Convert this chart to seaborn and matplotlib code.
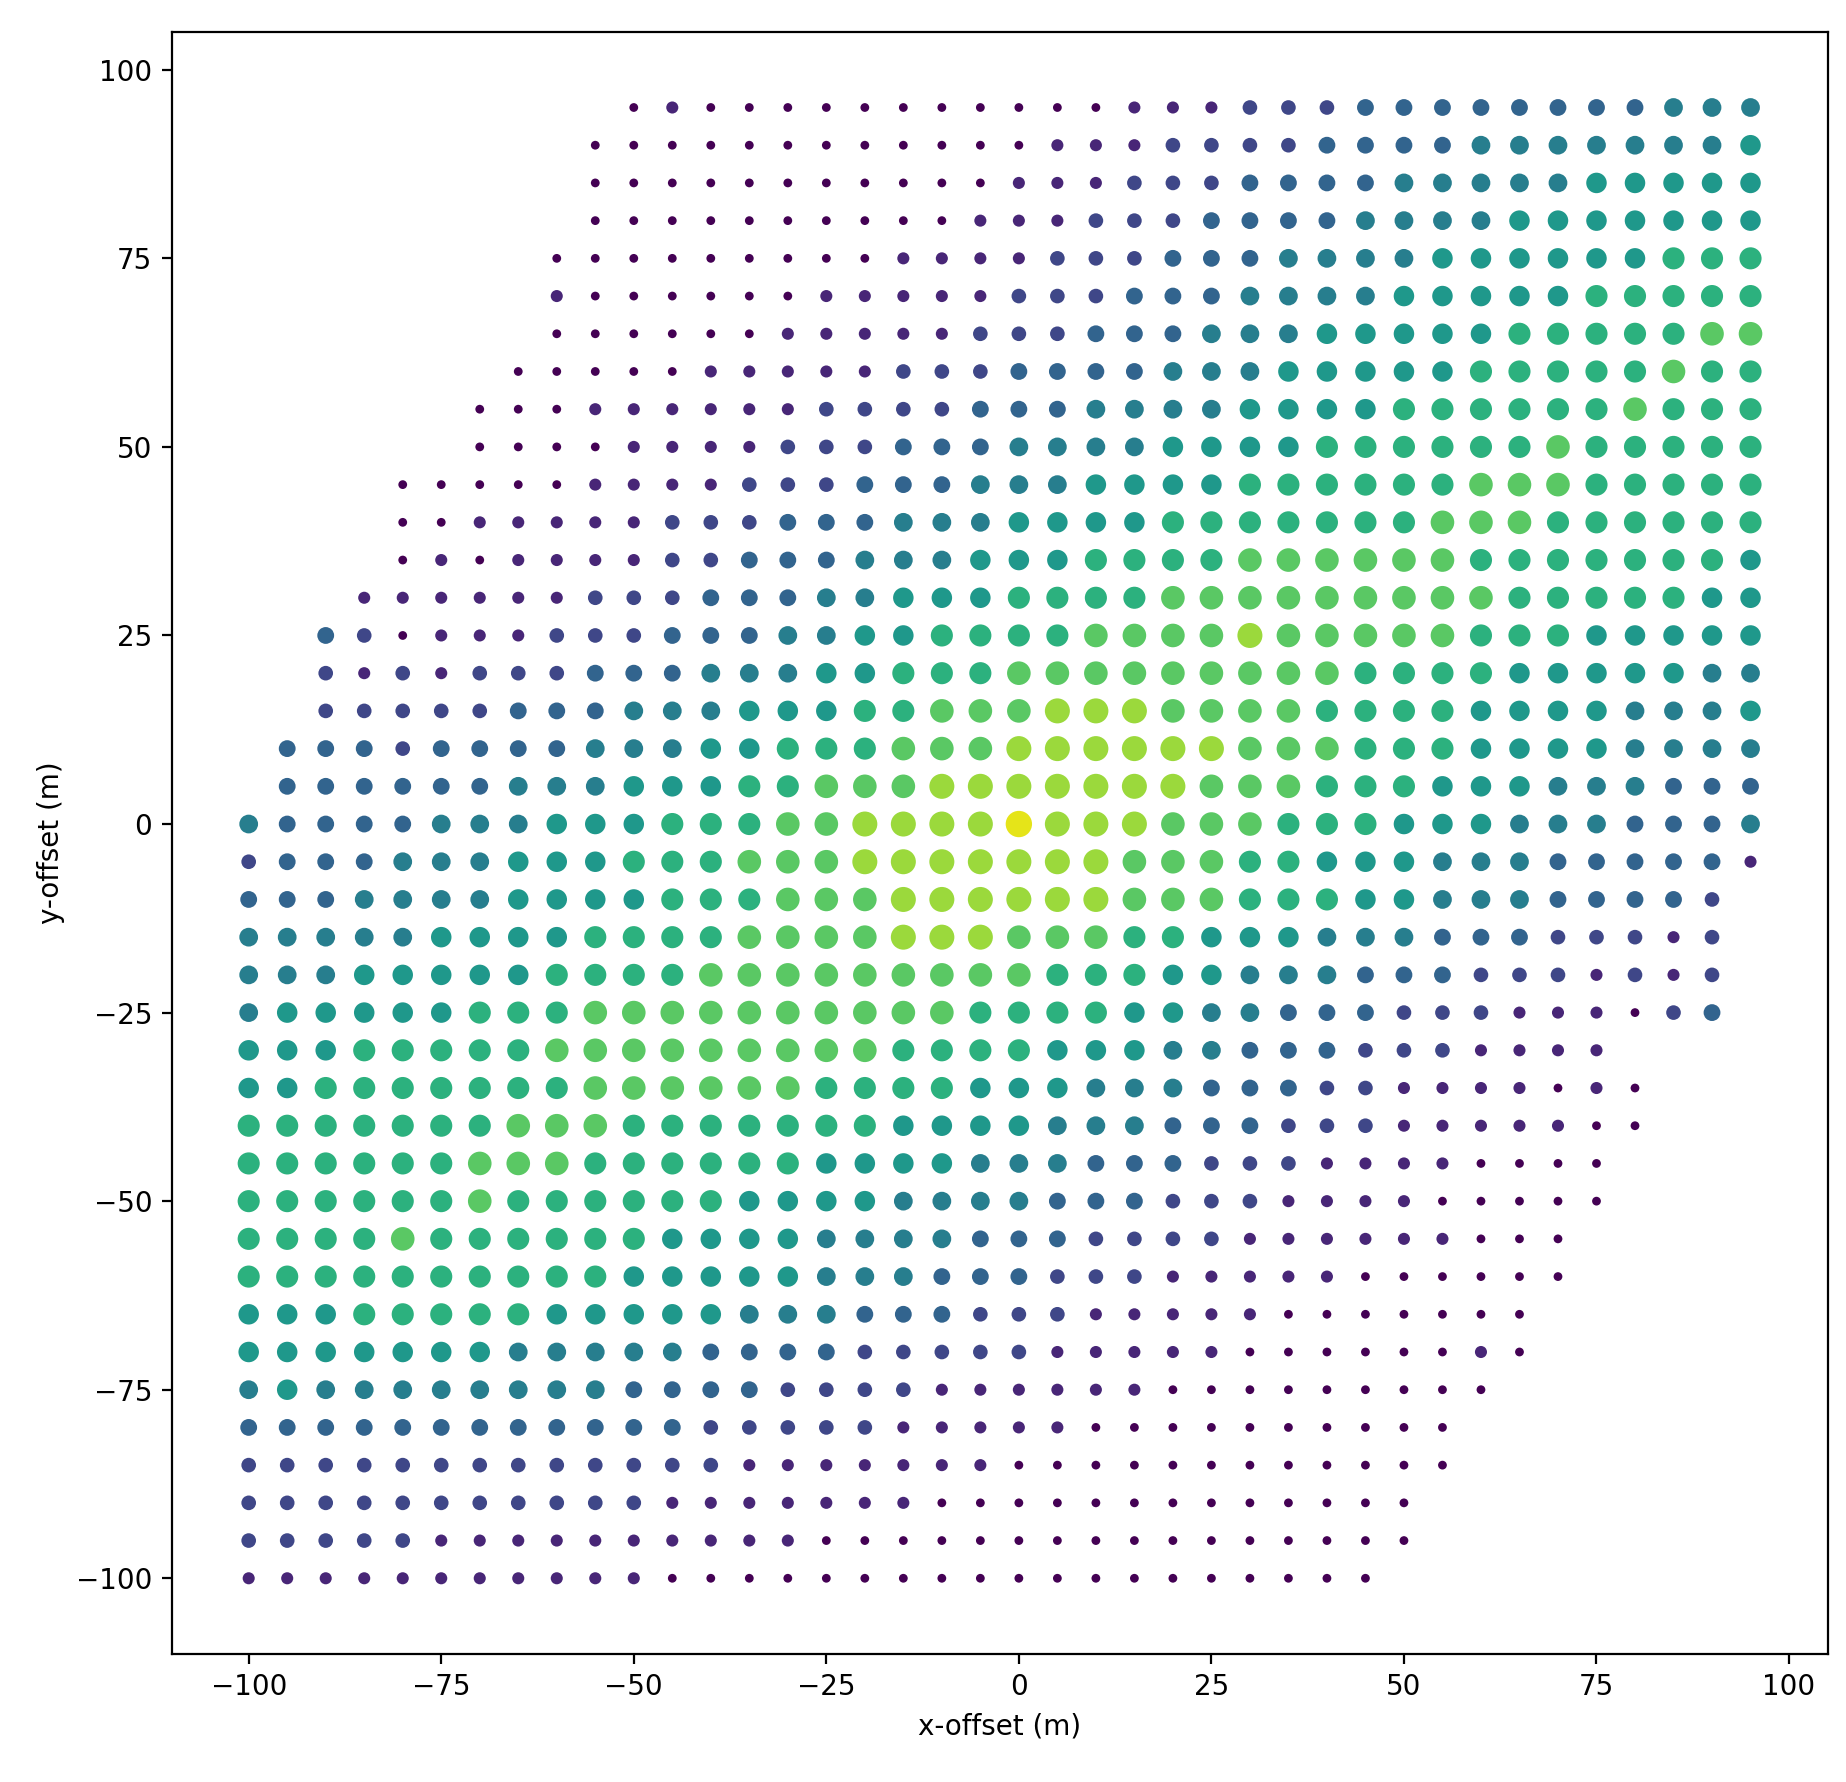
import matplotlib
matplotlib.use("Agg")
import matplotlib.pyplot as plt
import seaborn as sns
import pandas as pd
import numpy as np

x_offsets = list(range(-100, 100, 5))
y_offsets = list(range(95, -105, -5))

# level (0-9) per grid cell, columns x=-100..95, '.' = no data; rows y=95 .. -100
rows = [
    "..........010000000000011122233333333444",
    ".........0000000000001112222333344444445",
    ".........0000000000011122233334444455555",
    ".........0000000000111222333344445555555",
    "........00000000011112223334444555555666",
    "........10000001111122233344445555566666",
    "........00000011111222333444555556666677",
    ".......000001111122233334445555566666766",
    "......0001111112222333444455556666667666",
    "......0000111122233344445555666666766666",
    "....000001111222333444555566666677766666",
    "....001111122233344455556666666777666666",
    "....010111122333444555666677777766666665",
    "...1111112223334455566667777777776666655",
    "..32011122233344556666777787777766655555",
    "..21212223334445566677777777766665555544",
    "..22222333444555667778887777666655554445",
    ".333233334445566677788888877766655554444",
    ".333333444555667778888888777666555444333",
    "4333344455566677888898887776665554443334",
    "2333444555666777888888877766555444333331",
    "333444455556667778888887776665544433332.",
    "444445555666677778887776655544433322212.",
    "444555556666777777777666554443332221212.",
    "455555666777777777766665544333222111023.",
    "555666667777777776666555443332221111..",
    "5566666667777776666555444333221111010...",
    "6666666777666666655554443332221111100...",
    "666666777666666555544433322211110000....",
    "666666766666655554444333222111100000....",
    "66667666666555544443332222111111000.....",
    "66666666665555544433322211111000000.....",
    "5556666655555444333222111110000000......",
    "5555555444443333222221111100000010......",
    "454444444433332222111111000000000.......",
    "33333333333322222111110000000000........",
    "22222222222221111111000000000000........",
    "2222222222211111110000000000000.........",
    "2222211111111110000000000000000.........",
    "111111111110000000000000000000..........",
]

recs = []
for yv, r in zip(y_offsets, rows):
    r = (r + "." * 40)[:40]
    for xv, c in zip(x_offsets, r):
        if c != ".":
            recs.append((xv, yv, int(c)))
df = pd.DataFrame(recs, columns=["x", "y", "level"])

fig, ax = plt.subplots(figsize=(9.23, 8.91), dpi=200)
fig.subplots_adjust(left=0.093, right=0.99, top=0.982, bottom=0.072)
sns.scatterplot(data=df, x="x", y="y", hue="level", size="level",
                palette="viridis", hue_norm=(0, 9.4), sizes=(10, 90), size_norm=(0, 9),
                linewidth=0, legend=False, ax=ax)
ax.set_xlim(-110, 105)
ax.set_ylim(-110, 105)
ax.set_xticks([-100, -75, -50, -25, 0, 25, 50, 75, 100])
ax.set_yticks([-100, -75, -50, -25, 0, 25, 50, 75, 100])
ax.set_xlabel("x-offset (m)")
ax.set_ylabel("y-offset (m)")
fig.savefig("out.png")
